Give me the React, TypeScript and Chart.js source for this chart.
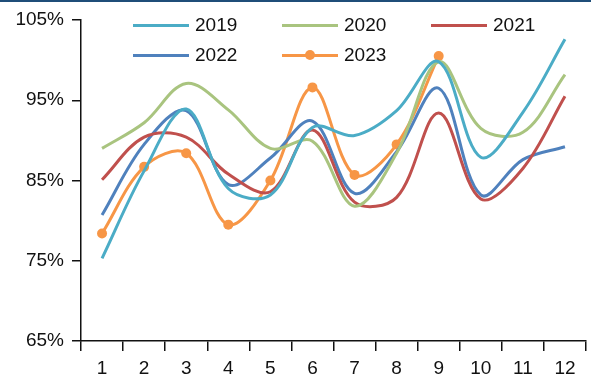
import React, { useEffect, useRef } from "react";
import { Chart, registerables } from "chart.js";

Chart.register(...registerables);

const months = ["1", "2", "3", "4", "5", "6", "7", "8", "9", "10", "11", "12"];
const y2019 = [75.3, 86.2, 93.9, 84.0, 83.2, 91.6, 90.6, 93.7, 99.8, 87.9, 93.5, 102.6];
const y2020 = [89.0, 92.2, 97.1, 93.8, 89.0, 89.9, 81.8, 88.4, 99.8, 91.5, 91.0, 98.2];
const y2021 = [85.1, 90.4, 90.4, 85.8, 83.6, 91.3, 82.3, 82.9, 93.4, 82.7, 86.5, 95.5];
const y2022 = [80.7, 89.5, 93.7, 84.5, 87.8, 92.4, 83.4, 88.6, 96.5, 83.2, 87.6, 89.2];
const y2023 = [78.4, 86.7, 88.4, 79.5, 85.0, 96.6, 85.7, 89.5, 100.5, null, null, null];
const yTicks = [65, 75, 85, 95, 105];

const FONT = "'Liberation Sans', Arial, sans-serif";
const TEXT = "#111";

const series = [
  { label: "2019", data: y2019, color: "#4bacc6", marker: false },
  { label: "2020", data: y2020, color: "#a9c47f", marker: false },
  { label: "2021", data: y2021, color: "#c0504d", marker: false },
  { label: "2022", data: y2022, color: "#4f81bd", marker: false },
  { label: "2023", data: y2023, color: "#f79646", marker: true },
];

const legendPos = [
  { x: 133, y: 25 },
  { x: 282, y: 25 },
  { x: 431, y: 25 },
  { x: 133, y: 55 },
  { x: 282, y: 55 },
];

export default function App() {
  const ref = useRef<HTMLCanvasElement | null>(null);

  useEffect(() => {
    if (!ref.current) return;
    const chart = new Chart(ref.current, {
      type: "line",
      data: {
        labels: months,
        datasets: series.map((s) => ({
          label: s.label,
          data: s.data,
          borderColor: s.color,
          backgroundColor: s.color,
          borderWidth: 3,
          tension: 0.35,
          pointRadius: s.marker ? 5 : 0,
          pointBorderWidth: 0,
          pointBackgroundColor: s.color,
          spanGaps: false,
          fill: false,
        })),
      },
      options: {
        responsive: false,
        animation: false,
        layout: { padding: { top: 20, right: 2, left: 0, bottom: 0 } },
        plugins: {
          legend: { display: false },
          tooltip: { enabled: false },
        },
        scales: {
          x: {
            type: "category",
            offset: true,
            afterFit: (scale: any) => {
              scale.height = 40;
            },
            grid: {
              offset: true,
              drawOnChartArea: false,
              drawTicks: true,
              tickLength: 10,
              color: "#111",
              lineWidth: 1.5,
            },
            border: { color: "#111", width: 1.5 },
            ticks: {
              color: TEXT,
              font: { family: FONT, size: 19 },
              padding: 6,
              maxRotation: 0,
            },
          },
          y: {
            min: 65,
            max: 105,
            afterFit: (scale: any) => {
              scale.width = 81;
            },
            afterBuildTicks: (scale: any) => {
              scale.ticks = yTicks.map((v) => ({ value: v }));
            },
            grid: {
              drawOnChartArea: false,
              drawTicks: true,
              tickLength: 9,
              color: "#111",
              lineWidth: 1.5,
            },
            border: { color: "#111", width: 1.5 },
            ticks: {
              color: TEXT,
              font: { family: FONT, size: 19 },
              padding: 8,
              callback: (v: any) => `${v}%`,
            },
          },
        },
      },
    });
    return () => chart.destroy();
  }, []);

  return (
    <div
      style={{
        position: "fixed",
        left: 0,
        top: 0,
        width: 591,
        height: 381,
        background: "#fff",
        overflow: "hidden",
      }}
    >
      <canvas ref={ref} width={591} height={381} style={{ position: "absolute", left: 0, top: 0 }} />
      <div
        style={{
          position: "absolute",
          left: 0,
          top: 0,
          width: 591,
          height: 2,
          background: "#1f4e79",
        }}
      />
      {series.map((s, i) => (
        <div
          key={s.label}
          style={{
            position: "absolute",
            left: legendPos[i].x,
            top: legendPos[i].y - 12,
            height: 24,
            display: "flex",
            alignItems: "center",
            fontFamily: FONT,
            fontSize: 19,
            color: TEXT,
          }}
        >
          <div style={{ position: "relative", width: 56, height: 24, marginRight: 6 }}>
            <div
              style={{
                position: "absolute",
                left: 0,
                top: 10.5,
                width: 56,
                height: 3,
                background: s.color,
              }}
            />
            {s.marker && (
              <div
                style={{
                  position: "absolute",
                  left: 28 - 5,
                  top: 12 - 5,
                  width: 10,
                  height: 10,
                  borderRadius: 5,
                  background: s.color,
                }}
              />
            )}
          </div>
          <span>{s.label}</span>
        </div>
      ))}
    </div>
  );
}
